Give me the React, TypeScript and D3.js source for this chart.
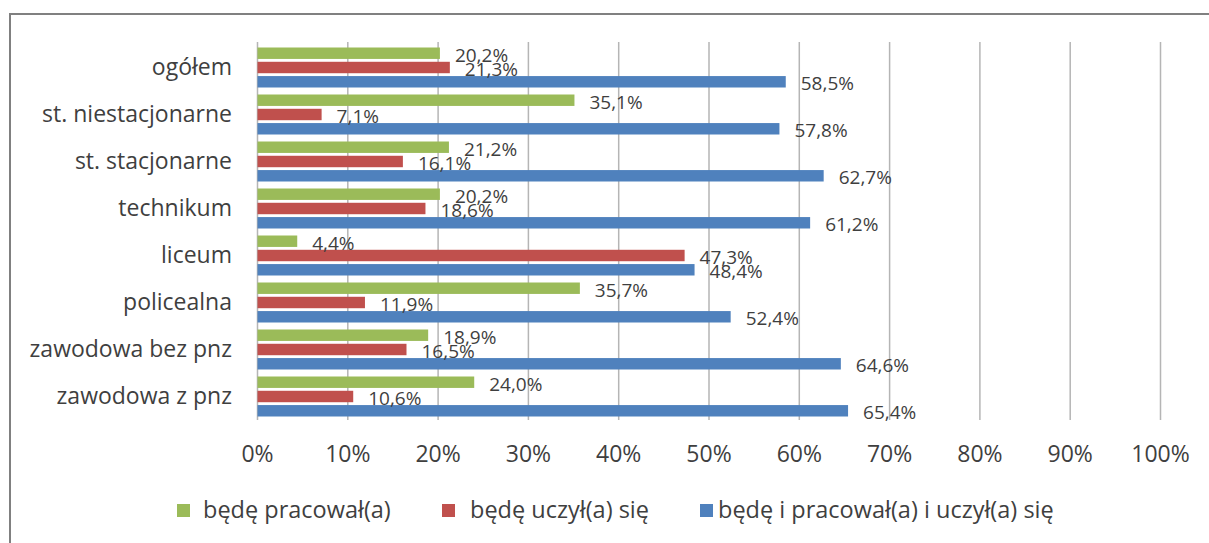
import React from "react";
import * as d3 from "d3";

const categories = [
  "ogółem",
  "st. niestacjonarne",
  "st. stacjonarne",
  "technikum",
  "liceum",
  "policealna",
  "zawodowa bez pnz",
  "zawodowa z pnz",
];
const seriesNames = ["będę pracował(a)", "będę uczył(a) się", "będę i pracował(a) i uczył(a) się"];
const pracowal = [20.2, 35.1, 21.2, 20.2, 4.4, 35.7, 18.9, 24.0];
const uczyl = [21.3, 7.1, 16.1, 18.6, 47.3, 11.9, 16.5, 10.6];
const oba = [58.5, 57.8, 62.7, 61.2, 48.4, 52.4, 64.6, 65.4];
const tickValues = [0, 10, 20, 30, 40, 50, 60, 70, 80, 90, 100];
const colors = ["#9BBB59", "#C0504D", "#4F81BD"];

const W = 1209;
const H = 543;
const FONT = "'Open Sans', sans-serif";
const TEXT = "#3f3f3f";

export default function App() {
  const x = d3.scaleLinear().domain([0, 100]).range([257.5, 1160.5]);
  const y = d3.scaleBand<string>().domain(categories).range([42, 418]);
  const sub = d3.scaleBand<number>().domain([0, 1, 2]).range([5.5, 45.5]).paddingInner(0.2);
  const series = [pracowal, uczyl, oba];
  const fmt = (v: number) => v.toFixed(1).replace(".", ",") + "%";

  const legendItems = [
    { sq: 177, tx: 203 },
    { sq: 442, tx: 470 },
    { sq: 700, tx: 718 },
  ];

  return (
    <svg
      width={W}
      height={H}
      style={{ position: "absolute", left: 0, top: 0, background: "#fff" }}
      fontFamily={FONT}
    >
      <rect x={0} y={0} width={W} height={H} fill="#fff" />
      <rect x={10} y={14} width={W + 20} height={H + 20} fill="#fff" stroke="#808080" strokeWidth={2} />
      {/* gridlines */}
      {tickValues.slice(1).map((t) => (
        <line key={t} x1={x(t)} x2={x(t)} y1={42} y2={420} stroke="#b5b5b5" strokeWidth={1.5} />
      ))}
      <line x1={x(0)} x2={x(0)} y1={42} y2={420} stroke="#b5b5b5" strokeWidth={1.5} />
      {/* bars */}
      {categories.map((c, i) => (
        <g key={c} transform={`translate(0,${y(c)})`}>
          {series.map((s, k) => (
            <rect
              key={k}
              x={x(0)}
              y={sub(k)}
              width={x(s[i]) - x(0)}
              height={sub.bandwidth()}
              fill={colors[k]}
            />
          ))}
        </g>
      ))}
      {/* data labels */}
      {categories.map((c, i) =>
        series.map((s, k) => (
          <text
            key={c + k}
            x={x(s[i]) + 15}
            y={(y(c) as number) + (sub(k) as number) + sub.bandwidth() / 2 + 8.5}
            fontSize={19}
            fill={TEXT}
          >
            {fmt(s[i])}
          </text>
        ))
      )}
      {/* category labels */}
      {categories.map((c) => (
        <text
          key={c}
          x={232}
          y={(y(c) as number) + y.bandwidth() / 2 + 9}
          fontSize={23}
          textAnchor="end"
          fill={TEXT}
        >
          {c}
        </text>
      ))}
      {/* x tick labels */}
      {tickValues.map((t) => (
        <text key={t} x={x(t)} y={462} fontSize={23} textAnchor="middle" fill={TEXT}>
          {t + "%"}
        </text>
      ))}
      {/* legend */}
      {seriesNames.map((n, k) => (
        <g key={n}>
          <rect x={legendItems[k].sq} y={504} width={13} height={13} fill={colors[k]} />
          <text x={legendItems[k].tx} y={518} fontSize={23.5} fill={TEXT}>
            {n}
          </text>
        </g>
      ))}
    </svg>
  );
}
